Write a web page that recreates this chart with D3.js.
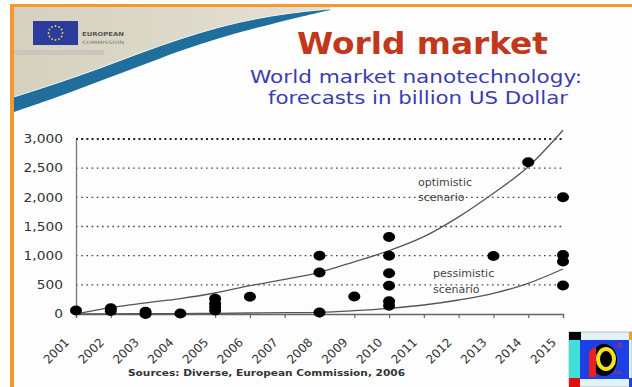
<!DOCTYPE html>
<html><head><meta charset="utf-8">
<script src="https://cdn.jsdelivr.net/npm/d3@7"></script>
<style>html,body{margin:0;padding:0;background:#fff;}svg{display:block;}</style>
</head><body>
<script>
// ---- data ----
const years = ["2001","2002","2003","2004","2005","2006","2007","2008","2009","2010","2011","2012","2013","2014","2015"];
const yTicks = [0,500,1000,1500,2000,2500,3000];
const yTickLabels = ["0","500","1,000","1,500","2,000","2,500","3,000"];
const pointYears  = ["2001","2002","2002","2003","2003","2004","2005","2005","2005","2005","2006","2008","2008","2008","2009","2010","2010","2010","2010","2010","2010","2013","2014","2015","2015","2015","2015"];
const pointValues = [60,100,50,40,0,10,260,180,120,60,295,1000,710,25,300,1320,1000,700,485,220,140,995,2600,2000,1010,900,490];
const optimistic  = [0,110,190,265,360,485,595,715,895,1085,1325,1665,2070,2525,3150];
const pessimistic = [0,2,5,8,12,17,22,29,57,97,154,240,354,526,771];
const titleText = "World market";
const subtitleLines = ["World market nanotechnology:","forecasts in billion US Dollar"];
const sourceText = "Sources: Diverse, European Commission, 2006";

const W=632,H=387;
const svg=d3.select("body").append("svg").attr("width",W).attr("height",H);

// slide background
svg.append("rect").attr("width",W).attr("height",H).attr("fill","#ffffff");
svg.append("rect").attr("x",14).attr("y",7).attr("width",W-14).attr("height",H-7).attr("fill","#fdfdfd");

// swoosh
const upper=[[14,97],[60,82],[100,68],[140,53],[180,39],[220,27],[260,18],[300,12],[330,9]];
const lower=[[14,112],[60,96],[100,81],[140,66],[180,51],[220,38],[260,27],[300,17],[330,10]];
const ln=d3.line().curve(d3.curveCatmullRom);
const defs=svg.append("defs");
const g1=defs.append("linearGradient").attr("id","beige").attr("x1","0").attr("x2","1").attr("y1","0").attr("y2","0");
g1.append("stop").attr("offset","0").attr("stop-color","#d6d1bd");
g1.append("stop").attr("offset","1").attr("stop-color","#e4e1d6");
svg.append("path").attr("d","M14,7 L330,7 "+ln(upper.slice().reverse()).replace("M","L")+" Z").attr("fill","url(#beige)");
svg.append("path").attr("d",ln(upper)+" "+ln(lower.slice().reverse()).replace("M","L")+" Z").attr("fill","#1f6e9c");
svg.append("path").attr("d",ln(upper)).attr("fill","none").attr("stroke","#f4f4f0").attr("stroke-width",1);
// gray strip under logo
svg.append("rect").attr("x",14).attr("y",50).attr("width",90).attr("height",5).attr("fill","#c9c6bb");

// EU flag
svg.append("rect").attr("x",33).attr("y",21).attr("width",45).attr("height",24).attr("fill","#2b3c9c");
d3.range(12).forEach(i=>{const a=i/12*2*Math.PI;
  svg.append("circle").attr("cx",55.5+7*Math.cos(a)).attr("cy",33+7*Math.sin(a)).attr("r",0.9).attr("fill","#e8d84a");});
svg.append("text").attr("x",82).attr("y",36).attr("font-family","DejaVu Sans").attr("font-size",5.5).attr("font-weight","bold").attr("fill","#555").text("EUROPEAN").attr("textLength",42).attr("lengthAdjust","spacingAndGlyphs");
svg.append("text").attr("x",82).attr("y",44).attr("font-family","DejaVu Sans").attr("font-size",4.5).attr("fill","#777").text("COMMISSION").attr("textLength",42).attr("lengthAdjust","spacingAndGlyphs");

// orange borders
svg.append("rect").attr("x",10).attr("y",4).attr("width",W-10).attr("height",3).attr("fill","#f7972f");
svg.append("rect").attr("x",10).attr("y",4).attr("width",4).attr("height",H-4).attr("fill","#f7972f");

// titles
svg.append("text").attr("x",297).attr("y",54).attr("font-family","DejaVu Sans").attr("font-weight","bold")
  .attr("font-size",30).attr("fill","#c1381c").attr("textLength",251).attr("lengthAdjust","spacingAndGlyphs").text(titleText);
svg.append("text").attr("x",250).attr("y",83).attr("font-family","DejaVu Sans").attr("font-size",17.5)
  .attr("fill","#3b3cb0").attr("textLength",332).attr("lengthAdjust","spacingAndGlyphs").text(subtitleLines[0]);
svg.append("text").attr("x",268).attr("y",104).attr("font-family","DejaVu Sans").attr("font-size",17.5)
  .attr("fill","#3b3cb0").attr("textLength",300).attr("lengthAdjust","spacingAndGlyphs").text(subtitleLines[1]);

// scales
const x=d3.scalePoint().domain(years).range([76,563]);
const y=d3.scaleLinear().domain([0,3000]).range([314,139]);

// grid
svg.append("g").selectAll("line").data(yTicks.filter(v=>v>0)).join("line")
  .attr("x1",76).attr("x2",563).attr("y1",d=>y(d)).attr("y2",d=>y(d))
  .attr("stroke",d=>d===3000?"#222":"#444").attr("stroke-width",d=>d===3000?1.8:1.3)
  .attr("stroke-dasharray",d=>d===3000?"2,3.2":"1.6,3.6");

// y axis
const ya=svg.append("g").attr("transform","translate(76,0)")
  .call(d3.axisLeft(y).tickValues(yTicks).tickSize(0).tickFormat((d,i)=>yTickLabels[i]));
ya.select(".domain").attr("stroke","#777").attr("stroke-width",1.3);
ya.selectAll("text").attr("font-family","DejaVu Sans").attr("font-size",11.5).attr("fill","#333")
  .attr("x",-13/1.2).attr("transform","scale(1.2,1)");

// x axis
const xa=svg.append("g").attr("transform","translate(0,314)")
  .call(d3.axisBottom(x).tickSize(4).tickFormat(""));
xa.select(".domain").attr("stroke","#666").attr("stroke-width",1.3);
xa.selectAll(".tick line").attr("stroke","#666").attr("stroke-width",1.2);
svg.append("g").selectAll("text").data(years).join("text")
  .attr("transform",d=>`translate(${x(d)-6},343) rotate(-45)`)
  .attr("text-anchor","end").attr("font-family","DejaVu Sans").attr("font-size",12).attr("fill","#333").text(d=>d);

// curves
const line=d3.line().x((d,i)=>x(years[i])).y(d=>y(d)).curve(d3.curveMonotoneX);
svg.append("path").attr("d",line(optimistic)).attr("fill","none").attr("stroke","#555").attr("stroke-width",1.3);
svg.append("path").attr("d",line(pessimistic)).attr("fill","none").attr("stroke","#555").attr("stroke-width",1.3);

// points
svg.append("g").selectAll("ellipse").data(pointValues).join("ellipse")
  .attr("cx",(d,i)=>x(pointYears[i])).attr("cy",d=>y(d)).attr("rx",6).attr("ry",5).attr("fill","#000");

// scenario labels
const lab=(t,xx,yy)=>svg.append("text").attr("x",xx).attr("y",yy).attr("font-family","DejaVu Sans").attr("font-size",11)
  .attr("fill","#444").text(t);
lab("optimistic",418,186); lab("scenario",418,201);
lab("pessimistic",433,277); lab("scenario",433,293);

// source
svg.append("text").attr("x",128).attr("y",376).attr("font-family","DejaVu Sans").attr("font-weight","bold").attr("font-size",9.5)
  .attr("fill","#333").attr("textLength",277).attr("lengthAdjust","spacingAndGlyphs").text(sourceText);

// logo bottom-right
const lg=svg.append("g");
lg.append("rect").attr("x",569).attr("y",332).attr("width",63).attr("height",55).attr("fill","#e2f3f5").attr("stroke","#999").attr("stroke-width",0.6);
lg.append("rect").attr("x",569).attr("y",332).attr("width",12).attr("height",8).attr("fill","#000");
lg.append("rect").attr("x",629).attr("y",332).attr("width",3).attr("height",8).attr("fill","#f0a020");
lg.append("rect").attr("x",569).attr("y",340).attr("width",11).attr("height",38).attr("fill","#3fe0d8");
lg.append("rect").attr("x",569).attr("y",378).attr("width",11).attr("height",9).attr("fill","#e01010");
lg.append("rect").attr("x",580).attr("y",340).attr("width",49).attr("height",39).attr("fill","#1c3fe6");
lg.append("rect").attr("x",629).attr("y",378).attr("width",3).attr("height",9).attr("fill","#1c3fe6");
lg.append("ellipse").attr("cx",604).attr("cy",360).attr("rx",13).attr("ry",16).attr("fill","#000");
lg.append("path").attr("d","M589,352 L596,346 L596,377 L589,377 Z").attr("fill","#e82020");
lg.append("ellipse").attr("cx",606).attr("cy",359).attr("rx",8).attr("ry",10).attr("fill","none").attr("stroke","#f4e21a").attr("stroke-width",4);
lg.append("text").attr("x",614).attr("y",348).attr("font-size",7).attr("fill","#e82020").attr("font-family","DejaVu Sans").text("-9");
lg.append("text").attr("x",613).attr("y",374).attr("font-size",5).attr("fill","#e82020").attr("font-family","DejaVu Sans").text("nm");
</script>
</body></html>
